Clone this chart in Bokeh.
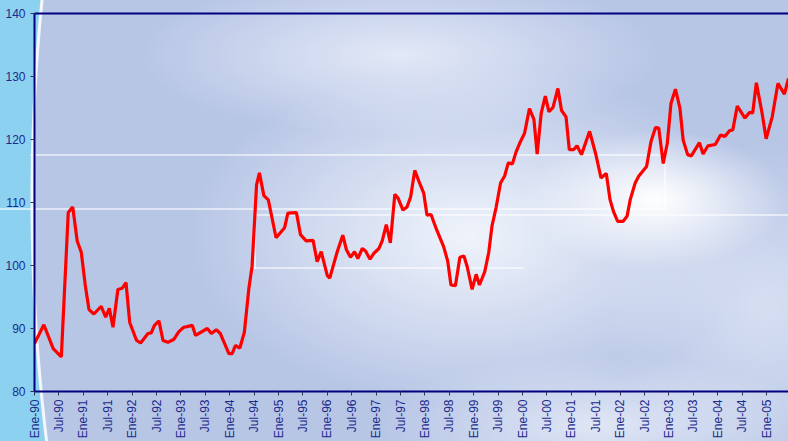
from bokeh.plotting import figure
from bokeh.models import Range1d, FixedTicker, InlineStyleSheet, LinearAxis
from bokeh.embed import file_html
from bokeh.resources import INLINE

# months since Ene-90 and index values
months = [0, 2.3, 4.6, 6.6, 8.3, 9.4, 10.5, 11.5, 12.5, 13.4, 14.6, 16.4, 17.5, 18.4, 19.3,
          20.5, 21.6, 22.5, 23.4, 25.1, 26.1, 27.9, 28.7, 29.5, 30.6, 31.6, 32.8, 34.3, 35.5,
          36.7, 37.5, 38.8, 39.6, 42.5, 43.5, 44.7, 45.7, 47.8, 48.6, 49.4, 50.5, 51.6, 52.7,
          53.5, 54.6, 55.3, 56.4, 57.5, 59.4, 61.5, 62.3, 64.4, 65.4, 66.8, 68.5, 69.5, 70.5,
          72.0, 72.6, 74.4, 75.8, 76.7, 77.7, 78.7, 79.5, 80.6, 81.4, 82.5, 83.4, 84.7, 85.5,
          86.5, 87.5, 88.6, 89.4, 90.6, 91.6, 92.5, 93.5, 94.5, 95.7, 96.5, 97.5, 98.8, 100.6,
          101.6, 102.4, 103.5, 104.6, 105.6, 106.4, 107.6, 108.6, 109.4, 110.7, 111.7, 112.5,
          113.5, 114.6, 115.6, 116.5, 117.5, 118.4, 119.3, 120.5, 121.7, 122.8, 123.6, 124.6,
          125.6, 126.5, 127.5, 128.7, 129.6, 130.7, 131.5, 132.6, 133.4, 134.5, 136.5, 138.0,
          139.3, 140.6, 141.5, 142.4, 143.4, 144.7, 145.7, 146.5, 147.7, 148.6, 150.5, 151.6,
          152.7, 153.5, 154.6, 155.6, 156.5, 157.6, 158.7, 159.5, 160.6, 161.5, 163.5, 164.4,
          165.6, 167.4, 168.7, 169.8, 170.9, 171.7, 172.8, 174.7, 175.8, 176.6, 177.5, 178.9,
          179.9, 181.4, 182.8, 184.4, 185.4]
values = [87.6, 90.6, 86.8, 85.5, 108.4, 109.3, 103.9, 102.1, 96.8, 93.0, 92.3, 93.5, 91.8, 93.2, 90.2,
          96.2, 96.4, 97.3, 91.0, 88.1, 87.7, 89.2, 89.3, 90.5, 91.2, 88.1, 87.8, 88.3, 89.5,
          90.2, 90.3, 90.5, 88.9, 90.0, 89.2, 89.8, 89.2, 86.0, 86.0, 87.3, 86.9, 89.4, 96.3,
          99.9, 112.8, 114.7, 111.1, 110.4, 104.4, 106.0, 108.3, 108.4, 104.9, 103.9, 104.0, 100.6, 102.2,
          98.4, 98.0, 102.1, 104.8, 102.5, 101.3, 102.2, 101.1, 102.7, 102.3, 101.0, 101.9, 102.7, 103.9,
          106.5, 103.6, 111.3, 110.7, 108.8, 109.3, 110.9, 115.1, 113.4, 111.5, 108.0, 108.1, 105.8, 103.0,
          100.7, 96.9, 96.8, 101.3, 101.5, 99.8, 96.2, 98.6, 96.9, 99.0, 102.1, 106.3,
          109.2, 113.1, 114.2, 116.3, 116.1, 118.0, 119.4, 121.0, 124.9, 123.2, 117.7, 124.2,
          126.9, 124.4, 125.1, 128.1, 124.6, 123.6, 118.4, 118.4, 119.0, 117.6, 121.3, 117.7,
          113.9, 114.6, 110.5, 108.5, 107.0, 107.0, 107.8, 110.5, 113.1, 114.2, 115.7, 119.7,
          121.9, 121.8, 116.2, 119.4, 125.7, 128.0, 125.0, 119.9, 117.6, 117.4, 119.5, 117.7,
          119.0, 119.2, 120.7, 120.5, 121.4, 121.5, 125.3, 123.4, 124.3, 124.2, 129.0, 124.2,
          120.1, 123.6, 128.9, 127.2, 129.7]

tick_months = list(range(0, 181, 6))
tick_labels = ["Ene-90", "Jul-90", "Ene-91", "Jul-91", "Ene-92", "Jul-92", "Ene-93", "Jul-93",
               "Ene-94", "Jul-94", "Ene-95", "Jul-95", "Ene-96", "Jul-96", "Ene-97", "Jul-97",
               "Ene-98", "Jul-98", "Ene-99", "Jul-99", "Ene-00", "Jul-00", "Ene-01", "Jul-01",
               "Ene-02", "Jul-02", "Ene-03", "Jul-03", "Ene-04", "Jul-04", "Ene-05"]
y_ticks = [80, 90, 100, 110, 120, 130, 140]

NAVY = "#000080"
TEXT = "#1c2a8a"

W = "rgba(255,255,255,0.55)"
css = f"""
:host {{
  background:
    linear-gradient({W}, {W}) 30px 154px / 636px 2px no-repeat,
    linear-gradient({W}, {W}) 664px 154px / 2px 56px no-repeat,
    linear-gradient({W}, {W}) 0px 208px / 666px 2px no-repeat,
    linear-gradient({W}, {W}) 254px 214px / 540px 2px no-repeat,
    linear-gradient({W}, {W}) 254px 214px / 2px 55px no-repeat,
    linear-gradient({W}, {W}) 254px 267px / 270px 2px no-repeat,
    radial-gradient(circle 2000px at 2030px 200px, rgba(0,0,0,0) 0px, rgba(0,0,0,0) 1996px,
        rgba(255,255,255,0.85) 1997px, rgba(255,255,255,0.85) 1999px, #8cd2f0 2000px),
    radial-gradient(ellipse 130px 70px at 655px 200px, rgba(255,255,255,1), rgba(255,255,255,0) 100%),
    radial-gradient(ellipse 280px 170px at 470px 235px, rgba(245,248,253,0.9), rgba(245,248,253,0) 100%),
    radial-gradient(ellipse 260px 80px at 400px 55px, rgba(240,244,252,0.75), rgba(240,244,252,0) 100%),
    radial-gradient(ellipse 220px 70px at 600px 425px, rgba(240,244,252,0.7), rgba(240,244,252,0) 100%),
    radial-gradient(ellipse 160px 160px at 765px 305px, rgba(235,240,250,0.6), rgba(235,240,250,0) 100%),
    #b8c6e6;
}}
"""

p = figure(width=788, height=441, output_backend="svg", toolbar_location=None,
           x_range=Range1d(0, 185.4), y_range=Range1d(80, 140),
           min_border_left=34, min_border_right=0, min_border_top=13, min_border_bottom=48,
           background_fill_color=None, border_fill_color=None,
           outline_line_color=None,
           stylesheets=[InlineStyleSheet(css=css)])

p.line(months, values, line_color="#ff0000", line_width=3.2)

p.grid.visible = False

top_axis = LinearAxis(ticker=FixedTicker(ticks=[]), axis_line_color=NAVY, axis_line_width=2,
                      major_tick_line_color=None, minor_tick_line_color=None,
                      major_label_text_alpha=0, major_label_standoff=0)
p.add_layout(top_axis, "above")

p.xaxis.ticker = FixedTicker(ticks=tick_months)
p.xaxis.major_label_overrides = {m: lab for m, lab in zip(tick_months, tick_labels)}
p.xaxis.major_label_orientation = 1.5707963
p.yaxis.ticker = FixedTicker(ticks=y_ticks)

for ax in (p.below[0], p.left[0]):
    ax.axis_line_color = NAVY
    ax.axis_line_width = 2
    ax.major_tick_line_color = "#333355"
    ax.major_tick_line_width = 1
    ax.major_tick_in = 0
    ax.major_tick_out = 4
    ax.minor_tick_line_color = None
    ax.major_label_text_color = TEXT
    ax.major_label_text_font = "Liberation Sans"
    ax.major_label_text_font_size = "12px"
p.left[0].major_label_standoff = 5
p.below[0].major_label_standoff = 4

open("out.html", "w").write(file_html(p, INLINE))
